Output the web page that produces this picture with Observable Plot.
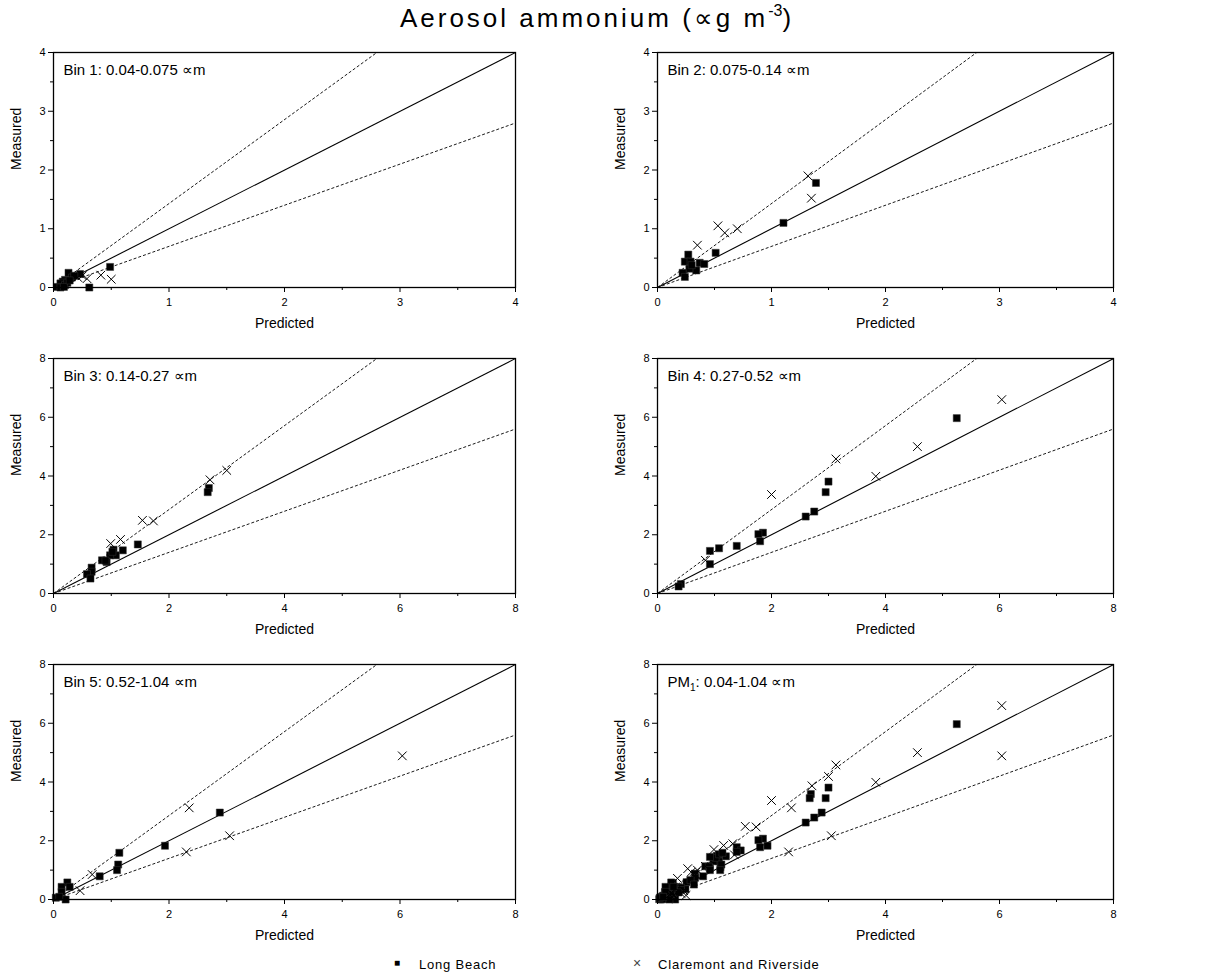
<!DOCTYPE html>
<html>
<head>
<meta charset="utf-8">
<script src="https://cdn.jsdelivr.net/npm/d3@7"></script>
<script src="https://cdn.jsdelivr.net/npm/@observablehq/plot@0.6"></script>
<style>
  body { margin: 0; background: #fff; }
  #wrap { position: relative; width: 1208px; height: 974px; overflow: hidden;
          font-family: "Liberation Sans", Arial, sans-serif; color: #000; background: #fff; }
  .panel { position: absolute; }
  #title { position: absolute; left: 0; width: 1194px; top: 3px; text-align: center;
           font-size: 26px; letter-spacing: 3px; white-space: nowrap; }
  #title sup { font-size: 16px; letter-spacing: 0; vertical-align: 0; position: relative; top: -11px; }
  .leg { position: absolute; font-size: 13px; letter-spacing: 0.8px; white-space: nowrap; }
</style>
</head>
<body>
<div id="wrap">
  <div id="title">Aerosol ammonium (∝g m<sup>-3</sup>)</div>
</div>
<script>
// ---- data: [Predicted, Measured] ----
const bin1LongBeach = [[0.49,0.35],[0.31,0.00],[0.23,0.23],[0.13,0.25],[0.16,0.17],[0.18,0.20],[0.10,0.13],[0.08,0.10],[0.06,0.07],[0.03,0.01],[0.06,0.00],[0.10,0.04],[0.12,0.08],[0.09,0.01],[0.14,0.12]];
const bin1Claremont = [[0.50,0.14],[0.41,0.21],[0.29,0.15],[0.21,0.17],[0.25,0.20]];
const bin2LongBeach = [[1.39,1.78],[1.105,1.10],[0.51,0.59],[0.27,0.56],[0.24,0.44],[0.29,0.44],[0.37,0.42],[0.41,0.40],[0.34,0.29],[0.28,0.32],[0.22,0.25],[0.24,0.18],[0.30,0.38]];
const bin2Claremont = [[1.32,1.90],[1.35,1.52],[0.53,1.05],[0.59,0.93],[0.70,1.00],[0.35,0.72]];
const bin3LongBeach = [[2.69,3.59],[2.67,3.45],[1.46,1.67],[1.20,1.47],[1.04,1.49],[1.08,1.30],[0.98,1.30],[0.92,1.07],[0.84,1.13],[0.90,1.12],[0.66,0.88],[0.66,0.74],[0.58,0.66],[0.64,0.51],[1.02,1.42]];
const bin3Claremont = [[3.00,4.19],[2.71,3.87],[1.54,2.49],[1.73,2.47],[1.16,1.84],[0.99,1.70]];
const bin4LongBeach = [[5.25,5.97],[3.00,3.81],[2.95,3.45],[2.75,2.79],[2.60,2.62],[1.85,2.07],[1.77,2.02],[1.80,1.78],[1.39,1.62],[1.08,1.54],[0.92,1.45],[0.92,1.00],[0.41,0.32],[0.37,0.24]];
const bin4Claremont = [[6.04,6.60],[4.56,5.00],[3.83,3.99],[3.13,4.58],[2.00,3.37],[0.84,1.13]];
const bin5LongBeach = [[2.88,2.96],[1.93,1.83],[1.14,1.59],[1.12,1.19],[1.10,1.00],[0.80,0.79],[0.24,0.58],[0.28,0.43],[0.14,0.43],[0.14,0.26],[0.21,0.00],[0.04,0.06],[0.10,0.09]];
const bin5Claremont = [[6.04,4.89],[2.35,3.12],[3.05,2.17],[2.30,1.62],[0.67,0.85],[0.46,0.30]];

// PM1 panel shows all bins together
const pm1LongBeach = [...bin1LongBeach, ...bin2LongBeach, ...bin3LongBeach, ...bin4LongBeach, ...bin5LongBeach];
const pm1Claremont = [...bin1Claremont, ...bin2Claremont, ...bin3Claremont, ...bin4Claremont, ...bin5Claremont];

const panelLabels = ["Bin 1: 0.04-0.075 ∝m", "Bin 2: 0.075-0.14 ∝m", "Bin 3: 0.14-0.27 ∝m",
                     "Bin 4: 0.27-0.52 ∝m", "Bin 5: 0.52-1.04 ∝m", "PM1: 0.04-1.04 ∝m"];
const axisMax = [4, 4, 8, 8, 8, 8];
const majorStep = [1, 1, 2, 2, 2, 2];
const solidSlopes = [1];          // 1:1 line
const dashedSlopes = [1 / 0.7, 0.7]; // ±30% lines
const legendLabels = ["Long Beach", "Claremont and Riverside"];

const panels = [
  [bin1LongBeach, bin1Claremont], [bin2LongBeach, bin2Claremont],
  [bin3LongBeach, bin3Claremont], [bin4LongBeach, bin4Claremont],
  [bin5LongBeach, bin5Claremont], [pm1LongBeach, pm1Claremont]
];

const wrap = document.getElementById("wrap");
const font = "'Liberation Sans', Arial, sans-serif";

panels.forEach(([lb, cr], i) => {
  const col = i % 2, row = Math.floor(i / 2);
  const max = axisMax[i], step = majorStep[i];
  const left = col === 0 ? 0 : 600;
  const width = col === 0 ? 600 : 608;
  const marginLeft = col === 0 ? 53 : 57;
  const marginRight = col === 0 ? 85 : 95;
  const top = [40, 346, 652][row];
  const major = d3.range(0, max + 1e-9, step);
  const minor = d3.range(step / 2, max, step);

  const chart = Plot.plot({
    width, height: 300,
    marginTop: 12, marginBottom: 53, marginLeft, marginRight,
    x: {domain: [0, max]},
    y: {domain: [0, max]},
    style: {fontFamily: font, fontSize: "11px", color: "#000", background: "transparent", overflow: "visible"},
    marks: [
      Plot.link(dashedSlopes, {x1: () => 0, y1: () => 0, x2: () => max, y2: d => d * max,
        clip: true, stroke: "#000", strokeWidth: 0.9, strokeDasharray: "3,2"}),
      Plot.link(solidSlopes, {x1: () => 0, y1: () => 0, x2: () => max, y2: d => d * max,
        clip: true, stroke: "#000", strokeWidth: 1.1}),
      Plot.dot(lb, {x: d => d[0], y: d => d[1], symbol: "square", r: 4, fill: "#000", stroke: "#333", strokeWidth: 0.5}),
      Plot.dot(cr, {x: d => d[0], y: d => d[1], symbol: "times", r: 4, stroke: "#000", strokeWidth: 1}),
      Plot.axisX({ticks: major, tickSize: 5, tickPadding: 6, label: null, tickFormat: d => d}),
      Plot.axisX({ticks: minor, tickSize: 3, label: null, tickFormat: () => ""}),
      Plot.axisY({ticks: major, tickSize: 5, tickPadding: 3, label: null, tickFormat: d => d}),
      Plot.axisY({ticks: minor, tickSize: 3, label: null, tickFormat: () => ""}),
      Plot.frame({stroke: "#000", strokeWidth: 1.3}),
      Plot.text([panelLabels[i]], {frameAnchor: "top-left", dx: 10, dy: 18, lineAnchor: "middle",
        textAnchor: "start", fontSize: 15, fill: "#000"}),
      Plot.text(["Predicted"], {frameAnchor: "bottom", dy: 36, lineAnchor: "middle", fontSize: 14, fill: "#000"}),
      Plot.text(["Measured"], {frameAnchor: "left", dx: -37, rotate: -90, lineAnchor: "middle", fontSize: 14, fill: "#000"})
    ]
  });
  chart.classList.add("panel");
  chart.style.left = left + "px";
  chart.style.top = top + "px";
  // subscript for PM1
  d3.select(chart).selectAll("text").filter(function () { return this.textContent === "PM1: 0.04-1.04 ∝m"; })
    .each(function () {
      const t = d3.select(this);
      t.text("");
      t.append("tspan").text("PM");
      t.append("tspan").attr("dy", 4).attr("font-size", 10).text("1");
      t.append("tspan").attr("dy", -4).text(": 0.04-1.04 ∝m");
    });
  wrap.appendChild(chart);
});

// legend
const leg = [
  {sym: "■", symLeft: 394, symTop: 957, symSize: 10, textLeft: 419, label: legendLabels[0]},
  {sym: "×", symLeft: 633, symTop: 955, symSize: 14, textLeft: 658, label: legendLabels[1]}
];
leg.forEach(l => {
  const s = document.createElement("div");
  s.className = "leg";
  s.style.left = l.symLeft + "px"; s.style.top = l.symTop + "px";
  s.style.fontSize = l.symSize + "px"; s.style.letterSpacing = "0";
  s.style.color = l.sym === "×" ? "#444" : "#000";
  s.textContent = l.sym;
  wrap.appendChild(s);
  const t = document.createElement("div");
  t.className = "leg";
  t.style.left = l.textLeft + "px"; t.style.top = "957px";
  t.textContent = l.label;
  wrap.appendChild(t);
});
</script>
</body>
</html>
